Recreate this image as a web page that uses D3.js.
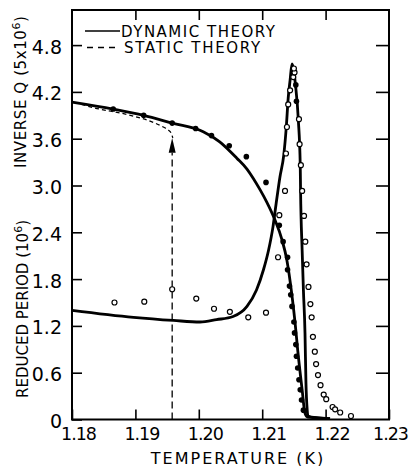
<!DOCTYPE html>
<html>
<head>
<meta charset="utf-8">
<script src="https://cdn.jsdelivr.net/npm/d3@7"></script>
<style>
  body { margin: 0; background: #fff; }
  svg { font-family: "DejaVu Sans", sans-serif; }
</style>
</head>
<body>
<div class="chart"></div>
<script>
var svgWidth = 409;
var svgHeight = 466;

var margin = { top: 10, right: 20, bottom: 46.5, left: 72 };
var width = svgWidth - margin.left - margin.right;
var height = svgHeight - margin.top - margin.bottom;

// axis ticks
var xTicks = [1.18, 1.19, 1.20, 1.21, 1.22, 1.23];
var yTicks = [0, 0.6, 1.2, 1.8, 2.4, 3.0, 3.6, 4.2, 4.8];

// dynamic theory, reduced period
var periodT = [1.1800, 1.1897, 1.1960, 1.2002, 1.2028, 1.2054, 1.2076, 1.2091, 1.2102, 1.2110,
  1.2117, 1.2122, 1.2128, 1.2134, 1.2138, 1.2141, 1.2144, 1.2147, 1.21525, 1.2157,
  1.2160, 1.21605, 1.2163, 1.2165, 1.21675, 1.2169, 1.2171, 1.2172, 1.2188, 1.2207];
var periodV = [1.40, 1.31, 1.27, 1.25, 1.28, 1.32, 1.45, 1.66, 1.92, 2.17,
  2.47, 2.77, 3.11, 3.39, 3.75, 4.12, 4.35, 4.56, 4.29, 3.84,
  3.26, 2.94, 2.17, 1.66, 1.11, 0.47, 0.12, 0.045, 0.02, 0.01];

// dynamic theory, inverse Q
var invQT = [1.1800, 1.1865, 1.1913, 1.1958, 1.2007, 1.2033, 1.2060, 1.2076, 1.2086, 1.2097,
  1.2107, 1.2120, 1.2131, 1.2139, 1.21465, 1.2152, 1.2156, 1.2163, 1.21675, 1.2172,
  1.2188, 1.2207];
var invQV = [4.07, 3.98, 3.90, 3.80, 3.69, 3.56, 3.35, 3.21, 3.09, 2.94,
  2.79, 2.56, 2.31, 2.04, 1.62, 1.23, 0.89, 0.38, 0.08, 0.03,
  0.02, 0.01];

// static theory (dashed)
var staticT = [1.1815, 1.1833, 1.1892, 1.1931, 1.1944, 1.1952, 1.1957, 1.1959];
var staticV = [4.04, 4.00, 3.90, 3.80, 3.75, 3.71, 3.66, 3.61];
var jumpT = 1.1958;
var jumpTop = 3.61;
var jumpBase = 3.42;

// measured inverse Q (filled)
var filledT = [1.1865, 1.1913, 1.1958, 1.1995, 1.2020, 1.2048, 1.2075, 1.2106, 1.2127, 1.2133,
  1.2140, 1.2140, 1.2143, 1.2145, 1.2147, 1.2150, 1.2151, 1.2153, 1.2154, 1.2156,
  1.2158, 1.2160, 1.2162, 1.2165, 1.2153, 1.2154];
var filledV = [3.98, 3.90, 3.80, 3.73, 3.64, 3.51, 3.37, 3.04, 2.49, 2.28,
  2.08, 1.92, 1.71, 1.60, 1.45, 1.25, 1.11, 0.96, 0.81, 0.66,
  0.51, 0.38, 0.25, 0.12, 4.29, 4.08];

// measured reduced period (open)
var openT = [1.1867, 1.1914, 1.1958, 1.1996, 1.2024, 1.2049, 1.2078, 1.2106, 1.2125, 1.2127,
  1.2136, 1.21375, 1.2139, 1.2141, 1.2144, 1.2149, 1.2151, 1.2150,
  1.2158, 1.2159, 1.2161, 1.2163, 1.2166, 1.2168, 1.2170, 1.2173, 1.2176, 1.2178,
  1.2180, 1.2183, 1.2185, 1.2188, 1.2192, 1.2197, 1.2201, 1.2211, 1.2215, 1.2223, 1.2240];
var openV = [1.50, 1.51, 1.67, 1.55, 1.42, 1.38, 1.31, 1.37, 2.08, 2.62,
  2.93, 3.41, 3.75, 4.04, 4.22, 4.39, 4.45, 4.50,
  3.85, 3.53, 3.26, 2.93, 2.61, 2.28, 1.99, 1.70, 1.48, 1.31,
  1.06, 0.87, 0.71, 0.57, 0.44, 0.32, 0.26, 0.16, 0.13, 0.09, 0.045];

var svg = d3.select(".chart")
  .append("svg")
  .attr("width", svgWidth)
  .attr("height", svgHeight);

var chartGroup = svg.append("g")
  .attr("transform", `translate(${margin.left}, ${margin.top})`);

var xScale = d3.scaleLinear().domain([1.18, 1.23]).range([0, width]);
var yScale = d3.scaleLinear().domain([0, 5.25]).range([height, 0]);

function pairs(xs, ys) {
  return xs.map((t, i) => [t, ys[i]]);
}

// axes, ticks pointing inward
var bottomAxis = d3.axisBottom(xScale).tickValues(xTicks).tickSize(-10).tickSizeOuter(0)
  .tickPadding(8).tickFormat(d3.format(".2f"));
var topAxis = d3.axisTop(xScale).tickValues(xTicks.slice(1, -1)).tickSize(-10).tickSizeOuter(0)
  .tickFormat("");
var leftAxis = d3.axisLeft(yScale).tickValues(yTicks).tickSize(-10).tickSizeOuter(0)
  .tickPadding(10).tickFormat(d => d === 0 ? "0" : d3.format(".1f")(d));
var rightAxis = d3.axisRight(yScale).tickValues(yTicks.slice(1)).tickSize(-13).tickSizeOuter(0)
  .tickFormat("");

var gx = chartGroup.append("g")
  .attr("transform", `translate(0, ${height})`)
  .call(bottomAxis);
gx.selectAll("text")
  .attr("font-size", 17.5).attr("letter-spacing", -1)
  .attr("dx", (d, i) => i === xTicks.length - 1 ? 1 : 6)
  .attr("font-family", "DejaVu Sans");

chartGroup.append("g").call(topAxis);

var gy = chartGroup.append("g").call(leftAxis);
gy.selectAll("text")
  .attr("font-size", 19).attr("dy", "0.42em")
  .attr("font-family", "DejaVu Sans");

chartGroup.append("g")
  .attr("transform", `translate(${width}, 0)`)
  .call(rightAxis);

chartGroup.selectAll(".domain").remove();
chartGroup.selectAll(".tick line").attr("stroke", "#000").attr("stroke-width", 1.6);

chartGroup.append("rect")
  .attr("width", width)
  .attr("height", height)
  .attr("fill", "none")
  .attr("stroke", "#000")
  .attr("stroke-width", 2);

var line = d3.line()
  .x(d => xScale(d[0]))
  .y(d => yScale(d[1]))
  .curve(d3.curveMonotoneX);

// static theory
chartGroup.append("path")
  .attr("d", line(pairs(staticT, staticV)))
  .attr("fill", "none")
  .attr("stroke", "#000")
  .attr("stroke-width", 1.3)
  .attr("stroke-dasharray", "4,3");

chartGroup.append("line")
  .attr("x1", xScale(jumpT)).attr("x2", xScale(jumpT))
  .attr("y1", yScale(0)).attr("y2", yScale(jumpBase))
  .attr("stroke", "#000")
  .attr("stroke-width", 1.3)
  .attr("stroke-dasharray", "7,4");

chartGroup.append("path")
  .attr("d", `M${xScale(jumpT)},${yScale(jumpTop)} L${xScale(jumpT) - 3.5},${yScale(jumpBase)} L${xScale(jumpT) + 3.5},${yScale(jumpBase)} Z`)
  .attr("fill", "#000");

// dynamic theory curves
chartGroup.append("path")
  .attr("d", line(pairs(periodT, periodV)))
  .attr("fill", "none")
  .attr("stroke", "#000")
  .attr("stroke-width", 2.8);

chartGroup.append("path")
  .attr("d", line(pairs(invQT, invQV)))
  .attr("fill", "none")
  .attr("stroke", "#000")
  .attr("stroke-width", 2.8);

// data points
chartGroup.selectAll(".filled")
  .data(pairs(filledT, filledV))
  .enter()
  .append("circle")
  .attr("class", "filled")
  .attr("cx", d => xScale(d[0]))
  .attr("cy", d => yScale(d[1]))
  .attr("r", 2.8)
  .attr("fill", "#000");

chartGroup.selectAll(".open")
  .data(pairs(openT, openV))
  .enter()
  .append("circle")
  .attr("class", "open")
  .attr("cx", d => xScale(d[0]))
  .attr("cy", d => yScale(d[1]))
  .attr("r", 2.5)
  .attr("fill", "#fff")
  .attr("stroke", "#000")
  .attr("stroke-width", 1.2);

// legend
svg.append("line")
  .attr("x1", 85).attr("x2", 120).attr("y1", 31).attr("y2", 31)
  .attr("stroke", "#000").attr("stroke-width", 1.4);
svg.append("text")
  .attr("x", 121).attr("y", 36.5)
  .attr("font-size", 15).attr("letter-spacing", 1.5)
  .text("DYNAMIC THEORY");

svg.append("line")
  .attr("x1", 87).attr("x2", 116).attr("y1", 47.5).attr("y2", 47.5)
  .attr("stroke", "#000").attr("stroke-width", 1.4)
  .attr("stroke-dasharray", "6,5");
svg.append("text")
  .attr("x", 124).attr("y", 53)
  .attr("font-size", 15).attr("letter-spacing", 1.7)
  .text("STATIC THEORY");

// axis titles
svg.append("text")
  .attr("x", 238).attr("y", 463.5)
  .attr("text-anchor", "middle")
  .attr("font-size", 16).attr("letter-spacing", 2)
  .text("TEMPERATURE (K)");

var periodLabel = svg.append("text")
  .attr("transform", "translate(28, 398) rotate(-90)")
  .attr("font-size", 15);
periodLabel.append("tspan").text("REDUCED PERIOD (10");
periodLabel.append("tspan").attr("dy", -6).attr("font-size", 11).text("6");
periodLabel.append("tspan").attr("dy", 6).text(")");

var qLabel = svg.append("text")
  .attr("transform", "translate(26, 168) rotate(-90)")
  .attr("font-size", 15).attr("letter-spacing", 0.6);
qLabel.append("tspan").text("INVERSE Q (5x10");
qLabel.append("tspan").attr("dy", -6).attr("font-size", 11).text("6");
qLabel.append("tspan").attr("dy", 6).text(")");
</script>
</body>
</html>
